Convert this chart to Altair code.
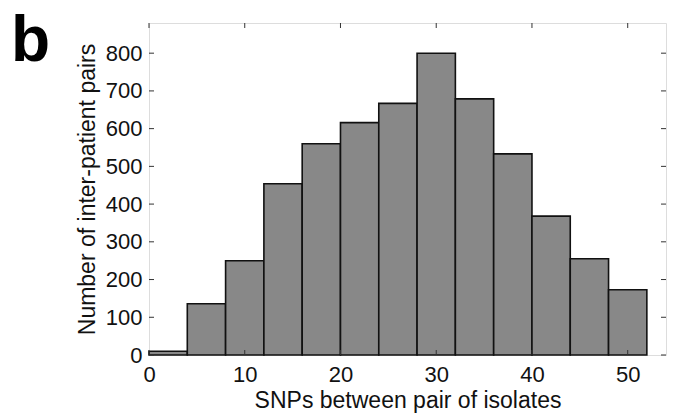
import altair as alt
import pandas as pd

# Histogram data (bins of width 4 SNPs)
bin_start = [0, 4, 8, 12, 16, 20, 24, 28, 32, 36, 40, 44, 48]
bin_end = [4, 8, 12, 16, 20, 24, 28, 32, 36, 40, 44, 48, 52]
counts = [10, 136, 250, 454, 560, 616, 667, 800, 679, 533, 368, 255, 173]

x_ticks = [0, 10, 20, 30, 40, 50]
y_ticks = [0, 100, 200, 300, 400, 500, 600, 700, 800]

W, H = 517, 332
FONT = "Liberation Sans"

bars_df = pd.DataFrame({"start": bin_start, "end": bin_end, "count": counts})
xt_df = pd.DataFrame({"v": x_ticks})
yt_df = pd.DataFrame({"v": y_ticks})

xscale = alt.Scale(domain=[0, 54], nice=False, zero=False)
yscale = alt.Scale(domain=[0, 880], nice=False)

bars = alt.Chart(bars_df).mark_bar(
    color="#888888", stroke="#111111", strokeWidth=1.6
).encode(
    x=alt.X("start:Q", scale=xscale,
            axis=alt.Axis(title="SNPs between pair of isolates", values=x_ticks,
                          ticks=False, domain=False, grid=False, labelPadding=9,
                          labelFontSize=22, titleFontSize=23, titlePadding=4,
                          labelFont=FONT, titleFont=FONT, labelColor="#111",
                          titleColor="#111", titleFontWeight="normal",
                          labelFlush=False)),
    x2="end:Q",
    y=alt.Y("count:Q", scale=yscale,
            axis=alt.Axis(title="Number of inter-patient pairs", values=y_ticks,
                          ticks=False, domain=False, grid=False, labelPadding=7,
                          labelFontSize=22, titleFontSize=23, titlePadding=6,
                          labelFont=FONT, titleFont=FONT, labelColor="#111",
                          titleColor="#111", titleFontWeight="normal",
                          labelFlush=False)),
    y2=alt.datum(0),
)

tick_color = "#333333"
bottom_ticks = alt.Chart(xt_df).mark_rule(color=tick_color, strokeWidth=1).encode(
    x=alt.X("v:Q", scale=xscale), y=alt.value(H), y2=alt.value(H - 5))
top_ticks = alt.Chart(xt_df).mark_rule(color=tick_color, strokeWidth=1).encode(
    x=alt.X("v:Q", scale=xscale), y=alt.value(0), y2=alt.value(5))
left_ticks = alt.Chart(yt_df).mark_rule(color=tick_color, strokeWidth=1).encode(
    y=alt.Y("v:Q", scale=yscale), x=alt.value(0), x2=alt.value(5))
right_ticks = alt.Chart(yt_df).mark_rule(color=tick_color, strokeWidth=1).encode(
    y=alt.Y("v:Q", scale=yscale), x=alt.value(W), x2=alt.value(W - 5))

panel_label = alt.Chart(pd.DataFrame({"t": ["b"]})).mark_text(
    font=FONT, fontSize=64, fontWeight="bold", align="left",
    baseline="alphabetic", color="#000"
).encode(text="t:N", x=alt.value(-138), y=alt.value(38))

chart = alt.layer(bars, bottom_ticks, top_ticks, left_ticks, right_ticks, panel_label).properties(
    width=W, height=H,
    autosize=alt.AutoSizeParams(type="none"),
    padding={"left": 141, "top": 15, "right": 1, "bottom": 60},
).configure_view(
    stroke="#111111", strokeWidth=1.2
).configure(background="white")

chart.save("out.html", embed_options={"renderer": "svg", "actions": False})
